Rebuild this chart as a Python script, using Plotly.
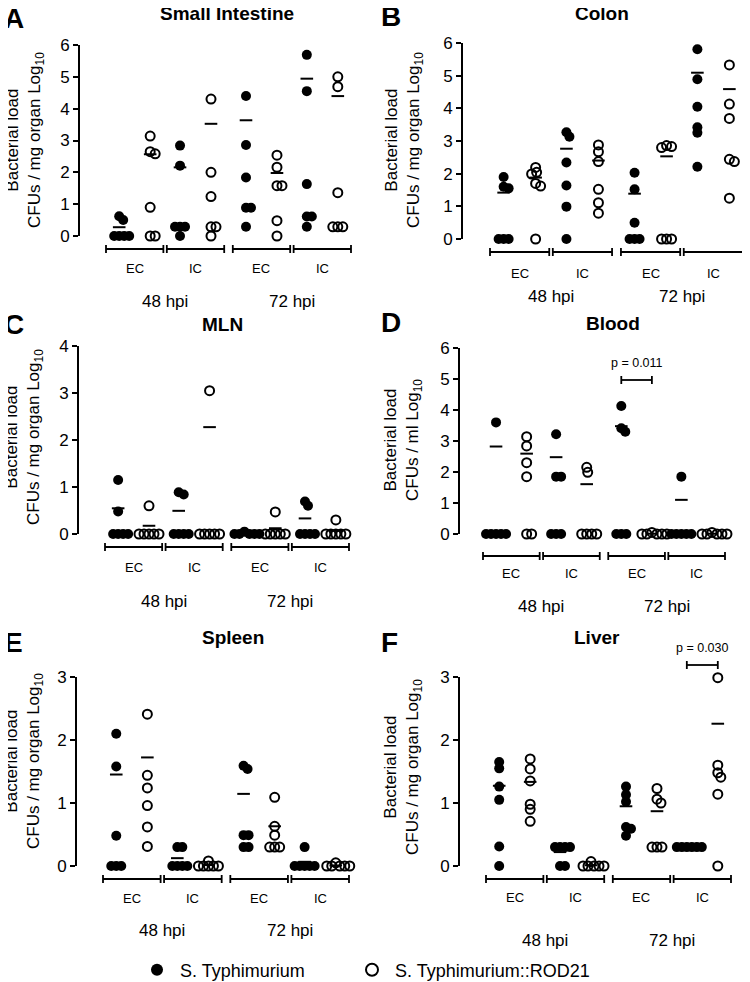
import numpy as np
import plotly.graph_objects as go

# log10 CFU values, groups in order: 48 hpi EC, 48 hpi IC, 72 hpi EC, 72 hpi IC
si_wt = [[0.62, 0.5, 0, 0, 0, 0], [2.84, 2.21, 0.29, 0.29, 0.29, 0],
         [4.4, 2.86, 1.84, 0.89, 0.89, 0.29], [5.69, 4.55, 1.63, 0.61, 0.61, 0.29]]
si_rod = [[3.14, 2.65, 2.58, 0.9, 0, 0], [4.3, 2.0, 1.24, 0.29, 0.29, 0],
          [2.54, 2.16, 1.58, 1.58, 0.48, 0], [5.0, 4.69, 1.36, 0.29, 0.29, 0.29]]
colon_wt = [[1.9, 1.6, 1.55, 0, 0, 0], [3.27, 3.13, 2.34, 1.64, 0.99, 0],
            [2.03, 1.52, 0.5, 0, 0, 0], [5.81, 4.89, 4.05, 3.42, 3.25, 2.21]]
colon_rod = [[2.19, 2.04, 1.99, 1.7, 1.62, 0], [2.88, 2.67, 2.37, 1.52, 1.11, 0.79],
             [2.86, 2.83, 2.8, 0, 0, 0], [5.33, 4.13, 3.69, 2.44, 2.37, 1.25]]
mln_wt = [[1.15, 0.48, 0, 0, 0, 0], [0.89, 0.84, 0, 0, 0, 0],
          [0.05, 0, 0, 0, 0, 0], [0.69, 0.6, 0, 0, 0, 0]]
mln_rod = [[0.6, 0, 0, 0, 0, 0], [3.05, 0, 0, 0, 0, 0],
           [0.47, 0, 0, 0, 0, 0], [0.3, 0, 0, 0, 0, 0]]
blood_wt = [[3.6, 0, 0, 0, 0, 0], [3.22, 1.85, 1.85, 0, 0, 0],
            [4.13, 3.41, 3.3, 0, 0, 0], [1.85, 0, 0, 0, 0, 0]]
blood_rod = [[3.14, 2.84, 2.3, 1.85, 0, 0], [2.15, 1.99, 0, 0, 0, 0],
             [0.05, 0, 0, 0, 0, 0], [0.05, 0, 0, 0, 0, 0]]
spleen_wt = [[2.1, 1.58, 0.48, 0, 0, 0], [0.3, 0.3, 0, 0, 0, 0],
             [1.59, 1.54, 0.49, 0.49, 0.3, 0.3], [0.3, 0, 0, 0, 0, 0]]
spleen_rod = [[2.41, 1.44, 1.24, 0.96, 0.62, 0.31], [0.08, 0, 0, 0, 0, 0],
              [1.09, 0.63, 0.49, 0.3, 0.3, 0.3], [0.05, 0, 0, 0, 0, 0]]
liver_wt = [[1.65, 1.55, 1.26, 1.05, 0.31, 0], [0.3, 0.3, 0.3, 0.3, 0, 0],
            [1.26, 1.13, 1.02, 0.62, 0.59, 0.48], [0.3, 0.3, 0.3, 0.3, 0.3, 0.3]]
liver_rod = [[1.7, 1.54, 1.35, 0.98, 0.9, 0.71], [0.07, 0, 0, 0, 0, 0],
             [1.23, 1.06, 1.0, 0.3, 0.3, 0.3], [2.99, 1.6, 1.48, 1.41, 1.14, 0]]

group_labels = ["EC", "IC", "EC", "IC"]
time_labels = ["48 hpi", "72 hpi"]
strains = ["S. Typhimurium", "S. Typhimurium::ROD21"]

W, H = 750, 982
PAD_X, PAD_Y = 8, 8   # the page body adds an 8px margin; positions are shifted to cancel it
FONT = "Liberation Sans, Arial, Helvetica, sans-serif"
XC = [0, 1.06, 2.21, 3.27]   # group centres
OFF = [-0.27, 0.27]          # wt / rod21 offset inside a group

YT_MG = "Bacterial load<br>CFUs / mg organ Log<sub>10</sub>"
YT_ML = "Bacterial load<br>CFUs / ml Log<sub>10</sub>"

panels = [
    dict(L="A", title="Small Intestine", wt=si_wt, rod=si_rod, ymax=6, ytitle=YT_MG,
         ax=80, bl=106, br=351, y0=236, yt=45, brk=249, lab=268, hpi=301,
         ytx=25, yty=140, tx=227, ty=13, lx=2, ly=18),
    dict(L="B", title="Colon", wt=colon_wt, rod=colon_rod, ymax=6, ytitle=YT_MG,
         ax=463, bl=490, br=743, y0=239, yt=43, brk=252, lab=274, hpi=296,
         ytx=404, yty=140, tx=602, ty=13, lx=379, ly=17),
    dict(L="C", title="MLN", wt=mln_wt, rod=mln_rod, ymax=4, ytitle=YT_MG,
         ax=79, bl=105, br=349, y0=534, yt=346, brk=547, lab=567, hpi=601,
         ytx=24, yty=437, tx=222, ty=325, lx=2, ly=325),
    dict(L="D", title="Blood", wt=blood_wt, rod=blood_rod, ymax=6, ytitle=YT_ML,
         ax=460, bl=483, br=725, y0=534, yt=348, brk=556, lab=573, hpi=606,
         ytx=403, yty=440, tx=613, ty=323, lx=379, ly=322,
         p=dict(g=2, text="p = 0.011", line=380, txt=363)),
    dict(L="E", title="Spleen", wt=spleen_wt, rod=spleen_rod, ymax=3, ytitle=YT_MG,
         ax=77, bl=103, br=349, y0=866, yt=677, brk=879, lab=898, hpi=930,
         ytx=24, yty=761, tx=233, ty=637, lx=2, ly=642),
    dict(L="F", title="Liver", wt=liver_wt, rod=liver_rod, ymax=3, ytitle=YT_MG,
         ax=460, bl=486, br=731, y0=866, yt=677, brk=879, lab=897, hpi=940,
         ytx=403, yty=767, tx=597, ty=637, lx=379, ly=642,
         p=dict(g=3, text="p = 0.030", line=665, txt=648)),
]


def swarm(vals, centre, ppx, ppy, thr=5.0):
    # simple beeswarm: nudge points sideways (in pixels) until they don't collide
    placed, xs = [], []
    for v in vals:
        yp = v * ppy
        dx = 0
        for step in range(0, 80):
            found = False
            for sgn in ([1] if step == 0 else [1, -1]):
                cand = sgn * step
                if all((cand - px) ** 2 + (yp - py) ** 2 >= thr ** 2 for px, py in placed):
                    dx, found = cand, True
                    break
            if found:
                break
        placed.append((dx, yp))
        xs.append(centre + dx / ppx)
    return xs


def fx(px):
    return (px - PAD_X) / W


def fy(px):
    return 1 - (px - PAD_Y) / H


def ann(x, y, text, size, xref="paper", bold=False, angle=0, xanchor="center"):
    return dict(x=x, y=y, xref=xref, yref="paper", text=("<b>%s</b>" % text) if bold else text,
                showarrow=False, xanchor=xanchor, yanchor="middle", textangle=angle,
                font=dict(size=size, color="black", family=FONT))


fig = go.Figure()
annotations, shapes = [], []
span = (XC[-1] + 0.5) - (XC[0] - 0.5)

for i, p in enumerate(panels):
    n = "" if i == 0 else str(i + 1)
    xa, ya = "x" + n, "y" + n
    ppx = (p["br"] - p["bl"]) / span
    ppy = (p["y0"] - p["yt"]) / p["ymax"]
    x_lo = XC[0] - 0.5 - (p["bl"] - p["ax"]) / ppx
    right_px = min(p["br"] + 8, W + PAD_X)
    x_hi = x_lo + (right_px - p["ax"]) / ppx

    fig.update_layout(**{
        "xaxis" + n: dict(domain=[fx(p["ax"]), fx(right_px)], range=[x_lo, x_hi],
                          visible=False, anchor=ya),
        "yaxis" + n: dict(domain=[fy(p["y0"]), fy(p["yt"])], range=[0, p["ymax"]],
                          anchor=xa, showline=True, linecolor="black", linewidth=1.6,
                          ticks="outside", ticklen=5, tickwidth=1.6, tickcolor="black",
                          tickvals=list(range(p["ymax"] + 1)), showgrid=False,
                          zeroline=False, automargin=False,
                          tickfont=dict(size=17, color="black", family=FONT)),
    })

    means_x, means_y = [], []
    for s, key in enumerate(["wt", "rod"]):
        xs, ys = [], []
        for g, vals in enumerate(p[key]):
            c = XC[g] + OFF[s]
            xs += swarm(vals, c, ppx, ppy)
            ys += vals
            means_x.append(c)
            means_y.append(np.log10(np.mean(10.0 ** np.array(vals))))
        if s == 0:
            marker = dict(symbol="circle", size=10, color="black", line=dict(width=0))
        else:
            marker = dict(symbol="circle-open", size=9, color="black", line=dict(width=2))
        fig.add_trace(go.Scatter(x=xs, y=ys, mode="markers", marker=marker, xaxis=xa, yaxis=ya,
                                 cliponaxis=False, name=strains[s], showlegend=(i == 0),
                                 legend="legend" if s == 0 else "legend2"))
    fig.add_trace(go.Scatter(x=means_x, y=means_y, mode="markers", xaxis=xa, yaxis=ya,
                             marker=dict(symbol="line-ew", size=9, line=dict(width=2, color="black")),
                             cliponaxis=False, showlegend=False, hoverinfo="skip"))

    # group brackets and labels
    for g, lab in enumerate(group_labels):
        a, b = XC[g] - 0.5, XC[g] + 0.5
        for x0, x1, y0, y1 in [(a, b, p["brk"], p["brk"]), (a, a, p["brk"] - 4, p["brk"] + 4),
                               (b, b, p["brk"] - 4, p["brk"] + 4)]:
            shapes.append(dict(type="line", xref=xa, yref="paper", x0=x0, x1=x1,
                               y0=fy(y0), y1=fy(y1), line=dict(color="black", width=1.8)))
        annotations.append(ann(XC[g], fy(p["lab"]), lab, 13, xref=xa))
    for t, lab in enumerate(time_labels):
        annotations.append(ann((XC[2 * t] + XC[2 * t + 1]) / 2, fy(p["hpi"]), lab, 17, xref=xa))

    # titles, letters and y titles
    annotations.append(ann(fx(p["tx"]), fy(p["ty"]), p["title"], 19, bold=True))
    annotations.append(ann(fx(p["lx"]), fy(p["ly"]), p["L"], 28, bold=True, xanchor="left"))
    annotations.append(ann(fx(p["ytx"]), fy(p["yty"]), p["ytitle"], 17, angle=-90))

    if "p" in p:
        q = p["p"]
        a, b = XC[q["g"]] + OFF[0], XC[q["g"]] + OFF[1]
        for x0, x1, y0, y1 in [(a, b, q["line"], q["line"]), (a, a, q["line"] - 4, q["line"] + 4),
                               (b, b, q["line"] - 4, q["line"] + 4)]:
            shapes.append(dict(type="line", xref=xa, yref="paper", x0=x0, x1=x1,
                               y0=fy(y0), y1=fy(y1), line=dict(color="black", width=1.8)))
        annotations.append(ann((a + b) / 2, fy(q["txt"]), q["text"], 12.5, xref=xa))

legend_style = dict(orientation="h", xanchor="left", yanchor="middle", bgcolor="rgba(0,0,0,0)",
                    itemsizing="constant", itemwidth=36,
                    font=dict(size=18, color="black", family=FONT))
fig.update_layout(
    width=W, height=H, margin=dict(l=0, r=0, t=0, b=0, autoexpand=False),
    paper_bgcolor="white", plot_bgcolor="white",
    font=dict(family=FONT, color="black"),
    annotations=annotations, shapes=shapes,
    legend=dict(x=fx(134), y=fy(970), **legend_style),
    legend2=dict(x=fx(349), y=fy(970), **legend_style),
)

fig.write_html("out.html")
